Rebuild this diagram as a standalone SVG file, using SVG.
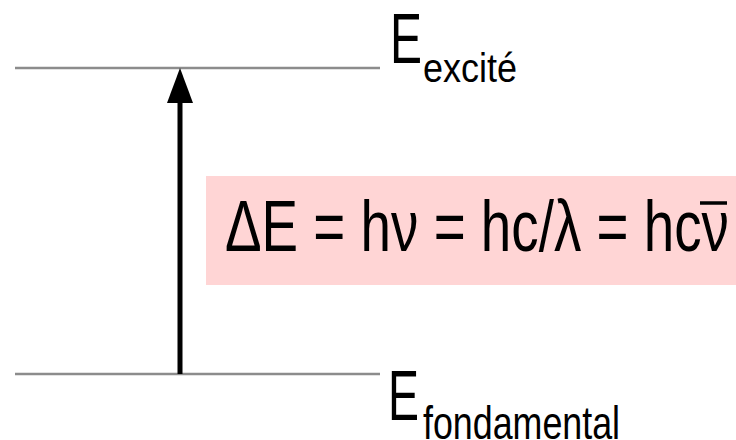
<svg xmlns="http://www.w3.org/2000/svg" width="736" height="440" viewBox="0 0 736 440">
<defs>
<style>
.lvl{stroke:#8c8c8c;stroke-width:2.5;fill:none}
.t{font-family:"Liberation Sans",Arial,sans-serif;fill:#000}
</style>
</defs>
<rect width="736" height="440" fill="#fff"/>
<g id="box">
<rect x="206" y="176" width="530" height="109" fill="#ffd5d5"/>
<text class="t" x="225" y="251" font-size="72" textLength="504" lengthAdjust="spacingAndGlyphs">ΔE = hν = hc/λ = hcν</text>
<line x1="700" y1="203" x2="727" y2="203" stroke="#000" stroke-width="3.5"/>
</g>
<g id="excite">
<line class="lvl" x1="15" y1="68" x2="380" y2="68"/>
<text class="t" x="390" y="63" font-size="71" textLength="32" lengthAdjust="spacingAndGlyphs">E</text>
<text class="t" x="423" y="82" font-size="40" textLength="94" lengthAdjust="spacingAndGlyphs">excité</text>
</g>
<g id="fondamental">
<line class="lvl" x1="15" y1="374" x2="380" y2="374"/>
<text class="t" x="388" y="420" font-size="71" textLength="31" lengthAdjust="spacingAndGlyphs">E</text>
<text class="t" x="423" y="439" font-size="46" textLength="197" lengthAdjust="spacingAndGlyphs">fondamental</text>
</g>
<g id="connectors">
<line x1="180" y1="374" x2="180" y2="102" stroke="#000" stroke-width="5"/>
<path d="M167,103 L180,68 L193,103 z" fill="#000"/>
</g>
</svg>
